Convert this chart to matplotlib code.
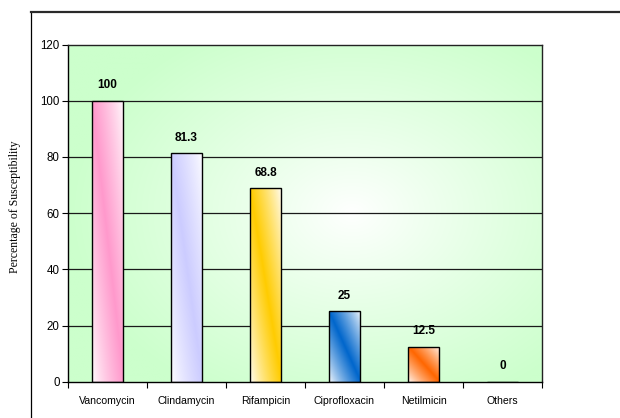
import numpy as np
import matplotlib
matplotlib.use("Agg")
import matplotlib.pyplot as plt
from matplotlib.colors import to_rgb
from matplotlib.lines import Line2D

categories = ["Vancomycin", "Clindamycin", "Rifampicin", "Ciprofloxacin", "Netilmicin", "Others"]
values = [100, 81.3, 68.8, 25, 12.5, 0]
value_labels = ["100", "81.3", "68.8", "25", "12.5", "0"]
bar_colors = ["#ff99cc", "#ccccff", "#ffcc00", "#0066cc", "#ff6600", "#ffffff"]
yticks = [0, 20, 40, 60, 80, 100, 120]

W, H = 620, 418
fig = plt.figure(figsize=(W / 100, H / 100), dpi=100)
ax = fig.add_axes([68 / W, 1 - 381.7 / H, (542 - 68) / W, (381.7 - 44.5) / H])

# radial background gradient
n = 300
uu, vv = np.meshgrid(np.linspace(0, 1, n), np.linspace(0, 1, n))
r = np.sqrt(((uu - 0.6) / 0.6) ** 2 + ((vv - 0.5) / 0.62) ** 2)
r = np.clip(r, 0, 1) ** 0.9
green = np.array(to_rgb("#ccffcc"))
white = np.ones(3)
bg = white[None, None, :] * (1 - r[..., None]) + green[None, None, :] * r[..., None]
ax.imshow(bg, extent=[0, 1, 0, 1], origin="lower", transform=ax.transAxes,
          aspect="auto", zorder=0, interpolation="bilinear")

x = np.arange(len(categories))
bw = 0.405
ax.set_xlim(-0.5, len(categories) - 0.5)
ax.set_ylim(0, 120)

for yv in yticks[1:-1]:
    ax.axhline(yv, color="#1a1a1a", lw=0.9, zorder=1)

bars = ax.bar(x, values, width=bw, facecolor="none", edgecolor="black", lw=1.0, zorder=3)

# diagonal gradient for bars
m = 200
gu, gv = np.meshgrid(np.linspace(0, 1, m), np.linspace(0, 1, m))  # gv: 0 top -> 1 bottom
s = (gu - gv + 1) / 2
intensity = np.clip(1 - np.abs(s - 0.5) * 2, 0, 1) ** 0.8
for xi, val, col, b in zip(x, values, bar_colors, bars):
    if val <= 0:
        continue
    c = np.array(to_rgb(col))
    img = white[None, None, :] * (1 - intensity[..., None]) + c[None, None, :] * intensity[..., None]
    im = ax.imshow(img, extent=[xi - bw / 2, xi + bw / 2, 0, val], origin="upper",
                   aspect="auto", zorder=2, interpolation="bilinear")
    im.set_clip_path(b)

for xi, val, lab in zip(x, values, value_labels):
    ax.annotate(lab, (xi, val), xytext=(0, 7), textcoords="offset points",
                ha="center", va="bottom", fontsize=8.5, fontweight="bold",
                family="Liberation Sans", zorder=5)

ax.set_yticks(yticks)
ax.set_yticklabels([str(t) for t in yticks], family="Liberation Sans", fontsize=8.3)
ax.tick_params(axis="y", direction="out", length=4, width=0.8, pad=2)
ax.set_xticks(x)
ax.set_xticklabels(categories, family="Liberation Sans", fontsize=7.6)
ax.tick_params(axis="x", which="major", length=0, pad=10)
ax.set_xticks(np.arange(-0.5, len(categories), 1.0), minor=True)
ax.tick_params(axis="x", which="minor", direction="out", length=4, width=0.8)

for side in ["left", "bottom"]:
    ax.spines[side].set_color("black")
    ax.spines[side].set_linewidth(1.0)
for side in ["top", "right"]:
    ax.spines[side].set_color("#222222")
    ax.spines[side].set_linewidth(1.0)

fig.text(15 / W, 1 - 207 / H, "Percentage of Susceptibility", rotation=90,
         ha="center", va="center", family="Liberation Serif", fontsize=8.5)

# outer frame
fig.add_artist(Line2D([31 / W, 31 / W], [0, 1 - 11.5 / H], transform=fig.transFigure,
                      color="black", lw=0.9))
fig.add_artist(Line2D([31 / W, 1], [1 - 11.5 / H, 1 - 11.5 / H], transform=fig.transFigure,
                      color="#2a2a2a", lw=1.6))

fig.savefig("out.png", dpi=100)
